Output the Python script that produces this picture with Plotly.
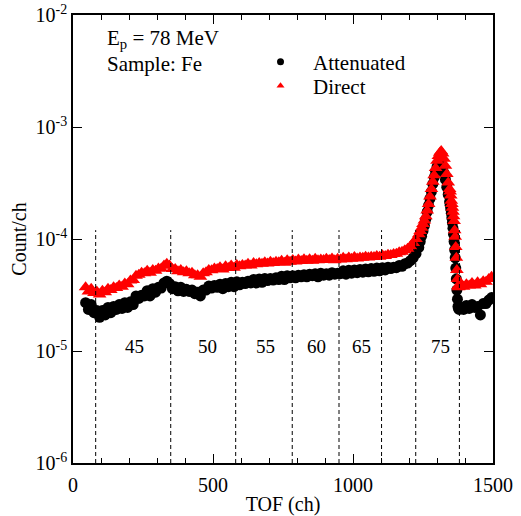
import plotly.graph_objects as go

# ---------------- data (counts in units of 1e-5 count/ch) ----------------
SCALE = 1e-5

ch_seg1 = list(range(45, 1235, 10))      # 45 .. 1225
ch_seg2 = list(range(1235, 1345, 5))     # 1235 .. 1340
ch_seg3 = list(range(1345, 1381, 2))     # 1345 .. 1379
ch_seg4 = list(range(1385, 1500, 10))    # 1385 .. 1495
tof_ch = ch_seg1 + ch_seg2 + ch_seg3 + ch_seg4

attenuated_e5 = [
    2.7, 2.35, 2.6, 2.2, 2.3, 2.0, 2.3, 2.1, 2.45, 2.2,
    2.5, 2.35, 2.6, 2.4, 2.7, 2.45, 2.75, 2.6, 3.1, 2.95,
    3.15, 3.1, 3.45, 3.1, 3.6, 3.35, 3.7, 3.65, 4.05, 4.2,
    4.0, 3.6, 3.75, 3.45, 3.7, 3.4, 3.55, 3.4, 3.5, 3.25,
    3.35, 3.1, 3.5, 3.5, 3.8, 3.65, 3.85, 3.7, 3.95, 3.6,
    4.0, 3.75, 4.1, 3.75, 4.15, 3.9, 4.1, 4.0, 4.2, 4.05,
    4.35, 4.05, 4.4, 4.1, 4.45, 4.25, 4.45, 4.3, 4.5, 4.35,
    4.65, 4.35, 4.7, 4.5, 4.7, 4.5, 4.75, 4.6, 4.8, 4.6,
    4.85, 4.7, 4.9, 4.6, 4.95, 4.75, 4.9, 4.75, 5.0, 4.85,
    4.95, 4.9, 5.2, 4.85, 5.25, 4.95, 5.3, 5.0, 5.35, 5.05,
    5.4, 5.1, 5.45, 5.15, 5.5, 5.2, 5.55, 5.3, 5.6, 5.45,
    5.6, 5.55, 5.8, 5.7, 6.0, 6.1, 6.4, 6.8, 7.4,
    # 1235 .. 1340 step 5
    8.4, 9.5, 10.6, 11.8, 13.2, 15, 17.5, 20, 23, 26.5,
    31, 35.5, 40, 44, 47, 48, 47, 44, 39, 34, 29, 25,
    # 1345 .. 1379 step 2
    21.5, 20, 18.5, 17, 15.5, 14, 12.5, 11, 9.5, 8.0,
    6.8, 5.5, 4.4, 3.5, 2.9, 2.5, 2.4, 2.35,
    # 1385 .. 1495 step 10
    2.45, 2.35, 2.55, 2.4, 2.6, 2.45, 2.5, 2.1, 2.65, 2.65, 2.85, 3.0,
]

direct_e5 = [
    3.7, 3.4, 3.6, 3.3, 3.4, 3.2, 3.45, 3.35, 3.6, 3.5,
    3.7, 3.65, 3.85, 3.75, 4.0, 3.95, 4.25, 4.3, 4.7, 4.8,
    5.0, 4.95, 5.2, 5.0, 5.3, 5.2, 5.45, 5.45, 5.8, 6.0,
    5.8, 5.4, 5.4, 5.15, 5.3, 5.05, 5.15, 4.95, 5.0, 4.75,
    4.75, 4.6, 4.95, 5.05, 5.3, 5.25, 5.45, 5.4, 5.6, 5.35,
    5.7, 5.5, 5.8, 5.55, 5.85, 5.7, 5.85, 5.8, 6.0, 5.8,
    6.1, 5.95, 6.1, 6.0, 6.2, 6.05, 6.25, 6.1, 6.25, 6.2,
    6.4, 6.15, 6.45, 6.25, 6.5, 6.3, 6.55, 6.35, 6.6, 6.4,
    6.6, 6.4, 6.65, 6.45, 6.55, 6.5, 6.65, 6.5, 6.7, 6.45,
    6.65, 6.55, 6.8, 6.6, 6.85, 6.65, 6.9, 6.7, 6.85, 6.8,
    6.95, 6.85, 6.95, 6.9, 7.05, 6.95, 7.15, 7.05, 7.25, 7.2,
    7.35, 7.4, 7.6, 7.7, 7.95, 8.2, 8.6, 9.2, 10.0,
    # 1235 .. 1340 step 5
    11.0, 11.8, 12.6, 13.6, 14.6, 16, 18, 20.5, 24, 28,
    32.5, 37, 43, 50, 55, 59, 61, 58, 52, 45, 38, 32,
    # 1345 .. 1379 step 2
    28, 26.5, 24.5, 22, 20.5, 19, 17.5, 16, 14.5, 12,
    10.5, 8.5, 6.8, 5.3, 4.4, 3.8, 3.7, 3.75,
    # 1385 .. 1495 step 10
    3.85, 3.75, 3.95, 3.85, 4.05, 3.85, 4.1, 3.95, 4.2, 4.15, 4.4, 4.6,
]

assert len(attenuated_e5) == len(tof_ch), (len(attenuated_e5), len(tof_ch))
assert len(direct_e5) == len(tof_ch), (len(direct_e5), len(tof_ch))

attenuated = [v * SCALE for v in attenuated_e5]
direct = [v * SCALE for v in direct_e5]

# energy-window boundaries (ch) and labels (MeV)
boundary_ch = [81, 349, 581, 783, 950, 1102, 1224, 1380]
boundary_bottom = 1e-6
boundary_top = 1.2e-4
window_labels = ["45", "50", "55", "60", "65", "75"]
window_label_ch = [218, 479, 689, 871, 1032, 1311]
window_label_logy = -4.9586   # log10(1.1e-5)

y_tickvals = [1e-6, 1e-5, 1e-4, 1e-3, 1e-2]
y_ticktext = ["10<sup>-6</sup>", "10<sup>-5</sup>", "10<sup>-4</sup>",
              "10<sup>-3</sup>", "10<sup>-2</sup>"]
x_tickvals = [0, 500, 1000, 1500]

FONT = "Liberation Serif, Times New Roman, serif"

fig = go.Figure()
fig.add_trace(go.Scatter(
    x=tof_ch, y=attenuated, mode="markers", name="Attenuated", showlegend=False,
    marker=dict(symbol="circle", size=11, color="black", line=dict(width=0)),
))
fig.add_trace(go.Scatter(
    x=tof_ch, y=direct, mode="markers", name="Direct", showlegend=False,
    marker=dict(symbol="triangle-up", size=12, color="red", line=dict(width=0)),
))

# dashed window boundaries
dash_x, dash_y = [], []
for bx in boundary_ch:
    dash_x += [bx, bx, None]
    dash_y += [boundary_bottom, boundary_top, None]
fig.add_trace(go.Scatter(
    x=dash_x, y=dash_y, mode="lines", showlegend=False, hoverinfo="skip",
    line=dict(color="black", width=1, dash="4px,3px"),
))

# legend-only entries (small symbols, as in the reference legend)
fig.add_trace(go.Scatter(
    x=[None], y=[None], mode="markers", name="Attenuated", legend="legend",
    marker=dict(symbol="circle", size=7, color="black", line=dict(width=0)),
))
fig.add_trace(go.Scatter(
    x=[None], y=[None], mode="markers", name="Direct", legend="legend2",
    marker=dict(symbol="triangle-up", size=7, color="red", line=dict(width=0)),
))

for lab, lx in zip(window_labels, window_label_ch):
    fig.add_annotation(x=lx, y=window_label_logy, xref="x", yref="y",
                       text=lab, showarrow=False,
                       font=dict(family=FONT, size=19, color="black"))

fig.add_annotation(x=0.076, y=0.946, xref="paper", yref="paper",
                   text="E<sub>p</sub> = 78 MeV", showarrow=False,
                   xanchor="left", yanchor="middle",
                   font=dict(family=FONT, size=21, color="black"))
fig.add_annotation(x=0.076, y=0.8906, xref="paper", yref="paper",
                   text="Sample: Fe", showarrow=False,
                   xanchor="left", yanchor="middle",
                   font=dict(family=FONT, size=21, color="black"))

legend_common = dict(xanchor="left", yanchor="middle",
                     bgcolor="rgba(0,0,0,0)", borderwidth=0,
                     font=dict(family=FONT, size=21, color="black"),
                     itemwidth=55)

fig.update_layout(
    width=521, height=516,
    margin=dict(l=73, r=28, t=15, b=53, autoexpand=False),
    paper_bgcolor="white", plot_bgcolor="white",
    font=dict(family=FONT, size=20, color="black"),
    showlegend=True,
    legend=dict(x=0.4167, y=(463 - 62) / 448, **legend_common),
    legend2=dict(x=0.4167, y=(463 - 86) / 448, **legend_common),
    xaxis=dict(
        range=[0, 1500], tickvals=x_tickvals, ticks="inside", ticklen=9,
        tickwidth=1, tickcolor="black", showline=True, linecolor="black",
        linewidth=1.5, mirror="ticks", showgrid=False, zeroline=False,
        automargin=False,
        title=dict(text="TOF (ch)", font=dict(family=FONT, size=20), standoff=8),
        tickfont=dict(family=FONT, size=20), ticklabelstandoff=3,
        minor=dict(dtick=100, ticks="inside", ticklen=5, tickcolor="black",
                   showgrid=False),
    ),
    yaxis=dict(
        type="log", range=[-6, -2], tickvals=y_tickvals, ticktext=y_ticktext,
        ticks="inside", ticklen=9, tickwidth=1, tickcolor="black",
        showline=True, linecolor="black", linewidth=1.5, mirror="ticks",
        showgrid=False, zeroline=False, automargin=False,
        title=dict(text="Count/ch", font=dict(family=FONT, size=20), standoff=4),
        tickfont=dict(family=FONT, size=20),
    ),
)

fig.write_html("out.html")
